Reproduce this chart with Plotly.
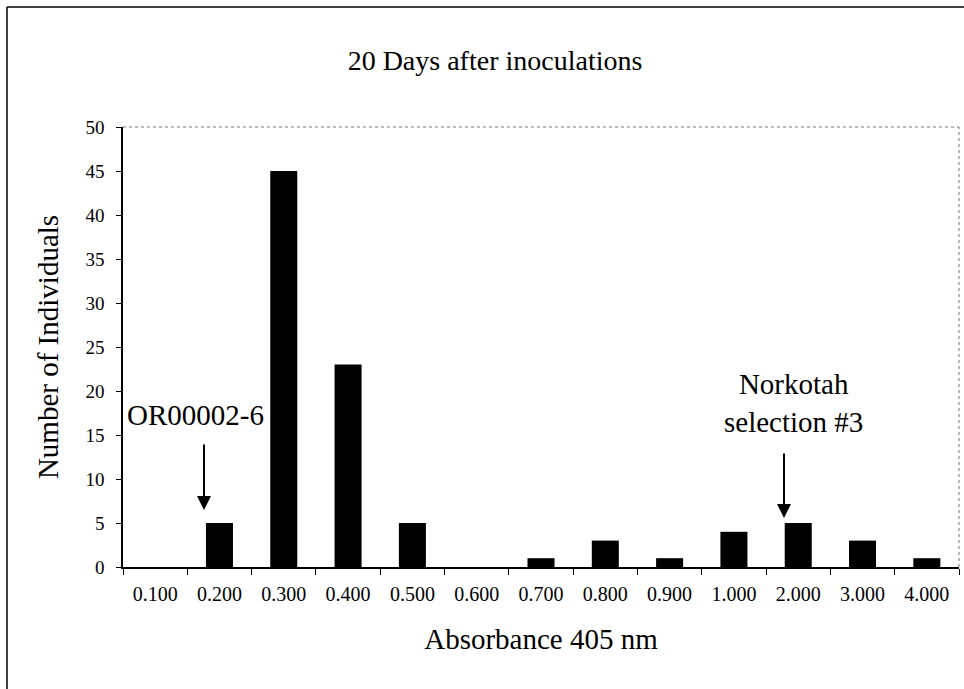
import plotly.graph_objects as go

categories = ["0.100", "0.200", "0.300", "0.400", "0.500", "0.600", "0.700",
              "0.800", "0.900", "1.000", "2.000", "3.000", "4.000"]
counts = [0, 5, 45, 23, 5, 0, 1, 3, 1, 4, 5, 3, 1]
y_ticks = [0, 5, 10, 15, 20, 25, 30, 35, 40, 45, 50]

title_text = "20 Days after inoculations"
x_title = "Absorbance 405 nm"
y_title = "Number of Individuals"
label_left = "OR00002-6"
label_right = "Norkotah<br>selection #3"

W, H = 964, 689
L, R, T, B = 123, 5, 127, 122
pw = W - L - R
ph = H - T - B
FONT = "Liberation Serif, Times New Roman, serif"


def px(xpix):
    return (xpix - L) / pw


def py(ypix):
    return (H - B - ypix) / ph


fig = go.Figure()
fig.add_trace(go.Bar(x=categories, y=counts, marker=dict(color="black", line=dict(width=0)),
                     showlegend=False))

fig.update_layout(
    width=W, height=H, autosize=False,
    margin=dict(l=L, r=R, t=T, b=B),
    paper_bgcolor="white", plot_bgcolor="white",
    bargap=0.58,
    font=dict(family=FONT, color="black"),
    title=dict(text=title_text, x=495 / W, xref="container", xanchor="center",
               y=1 - 60 / H, yref="container", yanchor="middle",
               font=dict(family=FONT, size=28, color="black")),
    xaxis=dict(type="category", categoryorder="array", categoryarray=categories,
               showline=True, linecolor="black", linewidth=1.5,
               ticks="outside", ticklen=6, tickcolor="black", tickson="boundaries",
               ticklabelstandoff=8,
               tickfont=dict(family=FONT, size=20, color="black"),
               showgrid=False, zeroline=False,
               title=dict(text=x_title, standoff=25,
                          font=dict(family=FONT, size=29, color="black"))),
    yaxis=dict(range=[0, 50], tickvals=y_ticks, showline=True, linecolor="black", linewidth=1.5,
               ticks="outside", ticklen=5, tickcolor="black",
               ticklabelstandoff=8,
               tickfont=dict(family=FONT, size=19, color="black"),
               showgrid=False, zeroline=False,
               title=dict(text=y_title, standoff=18,
                          font=dict(family=FONT, size=29, color="black"))),
)

# plot-area dotted border (top and right)
fig.add_shape(type="line", xref="paper", yref="paper", x0=0, x1=1, y0=1, y1=1,
              line=dict(color="#777777", width=1, dash="dot"))
fig.add_shape(type="line", xref="paper", yref="paper", x0=1, x1=1, y0=0, y1=1,
              line=dict(color="#777777", width=1, dash="dot"))
# outer frame (left and top)
fig.add_shape(type="line", xref="paper", yref="paper", x0=px(7), x1=px(7), y0=py(689), y1=py(7),
              line=dict(color="black", width=1.5))
fig.add_shape(type="line", xref="paper", yref="paper", x0=px(7), x1=px(964), y0=py(7), y1=py(7),
              line=dict(color="black", width=1.5))

# annotations
fig.add_annotation(xref="paper", yref="paper", x=px(195), y=py(415), text=label_left,
                   showarrow=False, font=dict(family=FONT, size=29, color="black"),
                   xanchor="center", yanchor="middle")
fig.add_annotation(xref="paper", yref="paper", x=px(204), y=py(510), text="",
                   showarrow=True, arrowhead=2, arrowsize=1.4, arrowwidth=2, arrowcolor="black",
                   ax=0, ay=-67)
fig.add_annotation(xref="paper", yref="paper", x=px(793), y=py(403), text=label_right,
                   showarrow=False, font=dict(family=FONT, size=29, color="black"),
                   xanchor="center", yanchor="middle")
fig.add_annotation(xref="paper", yref="paper", x=px(784), y=py(518), text="",
                   showarrow=True, arrowhead=2, arrowsize=1.4, arrowwidth=2, arrowcolor="black",
                   ax=0, ay=-66)

fig.write_html("out.html", config={"displayModeBar": False},
               post_script="document.body.style.margin='0px';document.body.style.overflow='hidden';")
